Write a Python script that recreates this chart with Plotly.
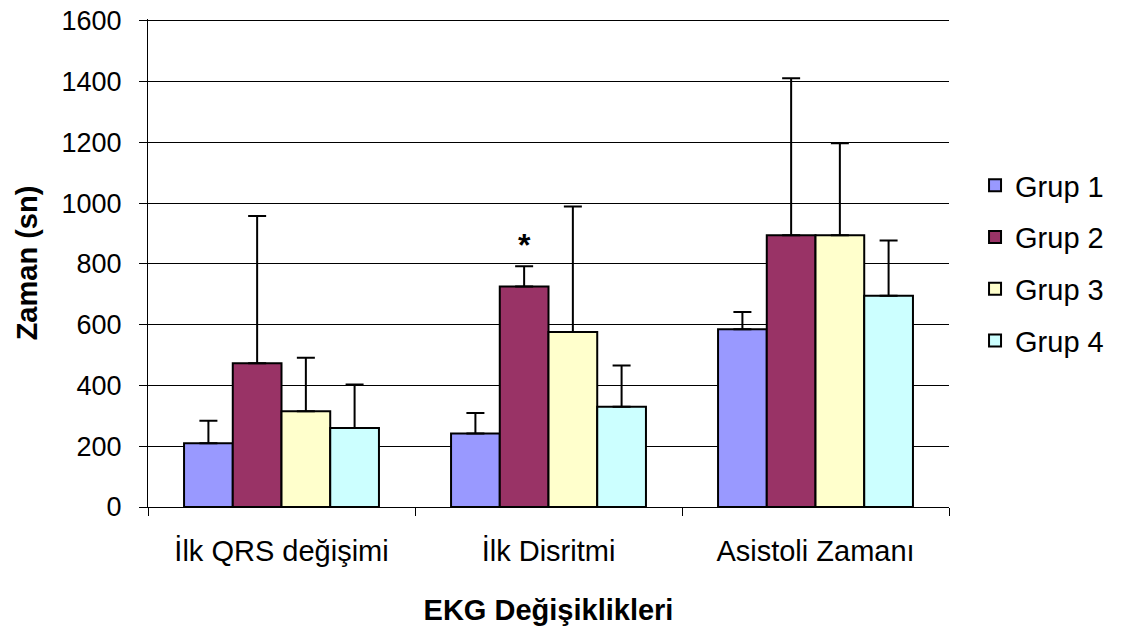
import plotly.graph_objects as go

categories = ["İlk QRS değişimi", "İlk Disritmi", "Asistoli Zamanı"]
groups = ["Grup 1", "Grup 2", "Grup 3", "Grup 4"]
grup1_mean = [210, 242, 585]
grup1_sd = [74, 67, 57]
grup2_mean = [473, 726, 894]
grup2_sd = [485, 66, 517]
grup3_mean = [315, 576, 894]
grup3_sd = [176, 413, 303]
grup4_mean = [260, 330, 695]
grup4_sd = [143, 136, 182]
colors = ["#9999FF", "#993366", "#FFFFCC", "#CCFFFF"]
y_ticks = [0, 200, 400, 600, 800, 1000, 1200, 1400, 1600]

means = [grup1_mean, grup2_mean, grup3_mean, grup4_mean]
sds = [grup1_sd, grup2_sd, grup3_sd, grup4_sd]

FONT = "Arial, Liberation Sans, sans-serif"

fig = go.Figure()
for i, g in enumerate(groups):
    fig.add_trace(go.Bar(
        name=g, x=categories, y=means[i],
        marker=dict(color=colors[i], line=dict(color="black", width=2)),
        error_y=dict(type="data", array=sds[i], arrayminus=[0] * len(categories),
                     symmetric=False, color="black", thickness=2, width=9),
        legendgroup=g,
    ))

fig.add_annotation(x="İlk Disritmi", y=874, xref="x", yref="y", text="<b>*</b>",
                   showarrow=False, xshift=-24, yshift=-4,
                   font=dict(size=32, color="black", family=FONT))

fig.update_layout(
    width=1113, height=624,
    margin=dict(l=140, r=172, t=11, b=125, autoexpand=False),
    paper_bgcolor="white", plot_bgcolor="white",
    barmode="group", bargap=0.27, bargroupgap=0,
    font=dict(family=FONT, size=29, color="black"),
    legend=dict(x=1.0325, y=0.5, xanchor="left", yanchor="middle",
                font=dict(size=29), tracegroupgap=11, traceorder="grouped"),
    xaxis=dict(
        showline=True, linecolor="black", linewidth=1, automargin=False,
        ticks="outside", tickson="boundaries", ticklen=8, tickcolor="black",
        ticklabelstandoff=18,
        title=dict(text="<b>EKG Değişiklikleri</b>", standoff=33, font=dict(size=29)),
        tickfont=dict(size=29),
    ),
    yaxis=dict(
        range=[0, 1606], tickvals=y_ticks, showline=True, linecolor="black", linewidth=1,
        ticks="outside", ticklen=8, tickcolor="black", automargin=False,
        ticklabelstandoff=12, ticklabeloverflow="allow",
        showgrid=True, gridcolor="black", gridwidth=1,
        title=dict(text="<b>Zaman (sn)</b>", standoff=15, font=dict(size=29)),
        tickfont=dict(size=27), zeroline=False,
    ),
)

fig.write_html("out.html")
